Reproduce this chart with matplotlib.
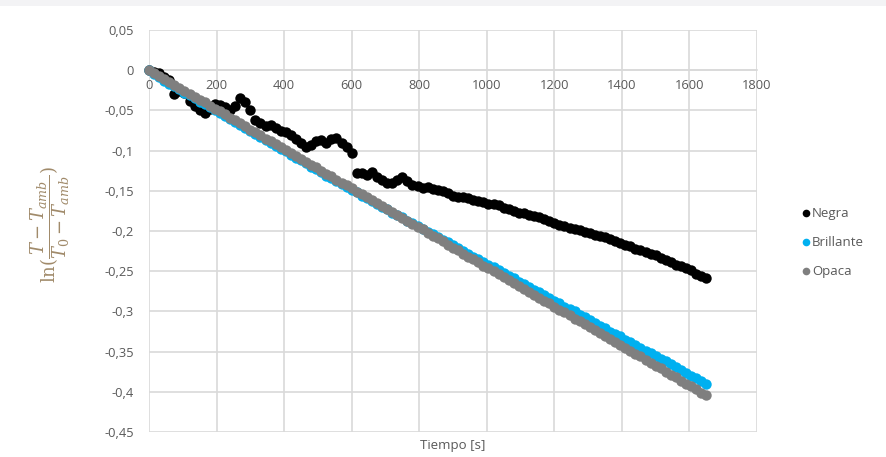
import matplotlib
matplotlib.use("Agg")
import matplotlib.pyplot as plt
from matplotlib.ticker import FixedLocator, FuncFormatter

plt.rcParams['font.family'] = ['Open Sans', 'DejaVu Sans']
plt.rcParams['mathtext.fontset'] = 'dejavuserif'

# time [s]
tiempo = [0, 15, 30, 45, 60, 75, 90, 105, 120, 135, 150, 165, 180, 195, 210, 225, 240, 255, 270, 285,
          300, 315, 330, 345, 360, 375, 390, 405, 420, 435, 450, 465, 480, 495, 510, 525, 540, 555, 570, 585,
          600, 615, 630, 645, 660, 675, 690, 705, 720, 735, 750, 765, 780, 795, 810, 825, 840, 855, 870, 885,
          900, 915, 930, 945, 960, 975, 990, 1005, 1020, 1035, 1050, 1065, 1080, 1095, 1110, 1125, 1140, 1155, 1170, 1185,
          1200, 1215, 1230, 1245, 1260, 1275, 1290, 1305, 1320, 1335, 1350, 1365, 1380, 1395, 1410, 1425, 1440, 1455, 1470, 1485,
          1500, 1515, 1530, 1545, 1560, 1575, 1590, 1605, 1620, 1635, 1650]

negra = [0.000, -0.002, -0.004, -0.008, -0.012, -0.030, -0.026, -0.028, -0.038, -0.045,
         -0.050, -0.053, -0.048, -0.042, -0.043, -0.046, -0.049, -0.044, -0.034, -0.040,
         -0.050, -0.062, -0.066, -0.070, -0.068, -0.072, -0.075, -0.077, -0.080, -0.085,
         -0.090, -0.096, -0.093, -0.088, -0.087, -0.090, -0.085, -0.084, -0.090, -0.095,
         -0.103, -0.128, -0.128, -0.130, -0.126, -0.133, -0.137, -0.140, -0.140, -0.137,
         -0.133, -0.138, -0.143, -0.144, -0.146, -0.145, -0.148, -0.149, -0.150, -0.153,
         -0.156, -0.158, -0.158, -0.159, -0.161, -0.163, -0.164, -0.166, -0.167, -0.168,
         -0.171, -0.173, -0.175, -0.177, -0.178, -0.180, -0.181, -0.183, -0.185, -0.187,
         -0.190, -0.192, -0.194, -0.196, -0.197, -0.199, -0.201, -0.203, -0.205, -0.206,
         -0.208, -0.210, -0.212, -0.215, -0.217, -0.219, -0.222, -0.224, -0.226, -0.228,
         -0.230, -0.233, -0.236, -0.239, -0.242, -0.244, -0.246, -0.249, -0.253, -0.256,
         -0.259]

brillante = [0.000, -0.005, -0.009, -0.013, -0.017, -0.020, -0.024, -0.028, -0.031, -0.035,
             -0.039, -0.042, -0.046, -0.050, -0.053, -0.057, -0.061, -0.064, -0.068, -0.072,
             -0.076, -0.079, -0.083, -0.087, -0.090, -0.094, -0.098, -0.101, -0.105, -0.109,
             -0.112, -0.116, -0.120, -0.123, -0.127, -0.131, -0.134, -0.138, -0.142, -0.145,
             -0.149, -0.152, -0.156, -0.159, -0.163, -0.166, -0.170, -0.173, -0.177, -0.180,
             -0.183, -0.187, -0.190, -0.194, -0.197, -0.201, -0.204, -0.208, -0.211, -0.214,
             -0.218, -0.221, -0.225, -0.228, -0.232, -0.235, -0.239, -0.242, -0.245, -0.249,
             -0.252, -0.256, -0.259, -0.263, -0.266, -0.270, -0.273, -0.276, -0.280, -0.283,
             -0.287, -0.290, -0.294, -0.297, -0.300, -0.304, -0.307, -0.311, -0.314, -0.318,
             -0.321, -0.325, -0.328, -0.331, -0.335, -0.338, -0.342, -0.345, -0.349, -0.352,
             -0.356, -0.359, -0.362, -0.366, -0.369, -0.373, -0.376, -0.380, -0.383, -0.387,
             -0.390]

opaca = [0.000, -0.004, -0.007, -0.011, -0.015, -0.018, -0.022, -0.026, -0.029, -0.033,
         -0.037, -0.040, -0.044, -0.048, -0.051, -0.055, -0.059, -0.062, -0.066, -0.070,
         -0.074, -0.077, -0.081, -0.085, -0.088, -0.092, -0.096, -0.099, -0.103, -0.107,
         -0.110, -0.114, -0.118, -0.121, -0.125, -0.129, -0.132, -0.136, -0.140, -0.143,
         -0.147, -0.151, -0.154, -0.158, -0.162, -0.165, -0.169, -0.173, -0.176, -0.180,
         -0.184, -0.187, -0.191, -0.195, -0.198, -0.202, -0.206, -0.209, -0.213, -0.217,
         -0.221, -0.224, -0.228, -0.232, -0.235, -0.239, -0.243, -0.246, -0.250, -0.254,
         -0.257, -0.261, -0.265, -0.268, -0.272, -0.276, -0.279, -0.283, -0.287, -0.290,
         -0.294, -0.298, -0.301, -0.305, -0.309, -0.312, -0.316, -0.320, -0.323, -0.327,
         -0.331, -0.334, -0.338, -0.342, -0.345, -0.349, -0.353, -0.356, -0.360, -0.364,
         -0.368, -0.371, -0.375, -0.379, -0.382, -0.386, -0.390, -0.393, -0.397, -0.401,
         -0.404]

series_names = ["Negra", "Brillante", "Opaca"]
series_colors = ["#000000", "#00b0f0", "#7f7f7f"]
x_ticks = [0, 200, 400, 600, 800, 1000, 1200, 1400, 1600, 1800]
y_ticks = [0.05, 0, -0.05, -0.1, -0.15, -0.2, -0.25, -0.3, -0.35, -0.4, -0.45]

W, H = 887, 457
fig = plt.figure(figsize=(W / 100, H / 100), dpi=100)
fig.patch.set_facecolor("white")

# faint top band
fig.patches.append(plt.Rectangle((0, 1 - 6 / H), 1, 6 / H, transform=fig.transFigure,
                                 facecolor="#f3f3f5", edgecolor="none", zorder=0))

left, right, top, bottom = 149, 757, 30, 432
ax = fig.add_axes([left / W, 1 - bottom / H, (right - left) / W, (bottom - top) / H])

grid_c = "#d9d9d9"
ax.set_xlim(0, 1800)
ax.set_ylim(-0.45, 0.05)
ax.xaxis.set_major_locator(FixedLocator(x_ticks))
ax.yaxis.set_major_locator(FixedLocator(y_ticks))
ax.grid(True, color=grid_c, linewidth=1.2, zorder=0)
ax.set_axisbelow(True)

for s in ["top", "right", "left"]:
    ax.spines[s].set_visible(False)
ax.spines["bottom"].set_position(("data", 0))
ax.spines["bottom"].set_color(grid_c)
ax.spines["bottom"].set_linewidth(1.2)

def fmt(v, pos):
    if abs(v) < 1e-12:
        return "0"
    s = ("%.2f" % v).rstrip("0").rstrip(".")
    return s.replace(".", ",")

ax.yaxis.set_major_formatter(FuncFormatter(fmt))
ax.xaxis.set_major_formatter(FuncFormatter(lambda v, p: "%d" % v))
ax.tick_params(axis="both", length=0, labelsize=9.3, colors="#595959")
ax.tick_params(axis="y", pad=11)
ax.tick_params(axis="x", pad=6)

data = [negra, brillante, opaca]
for name, vals, col in zip(series_names, data, series_colors):
    ax.plot(tiempo, vals, linestyle="none", marker="o", markersize=7.5,
            color=col, markeredgewidth=0, label=name, zorder=3, clip_on=False)

# labels
fig.text((left + right) / 2 / W, 1 - 446 / H, "Tiempo [s]", ha="center", va="center",
         fontsize=9.5, color="#595959")
fig.text(50 / W, 1 - 225 / H, r"$\mathrm{ln}(\dfrac{T-T_{amb}}{T_0-T_{amb}})$",
         rotation=90, ha="center", va="center", fontsize=13, color="#a08a6a")

# legend
leg_y = [213, 242, 271]
for name, col, yy in zip(series_names, series_colors, leg_y):
    fig.lines.append(plt.Line2D([806 / W], [1 - yy / H], transform=fig.transFigure,
                                marker="o", markersize=5.5, color=col, markeredgewidth=0,
                                linestyle="none"))
    fig.text(812 / W, 1 - yy / H, name, ha="left", va="center", fontsize=9.5, color="#595959")

fig.savefig("out.png", dpi=100)
